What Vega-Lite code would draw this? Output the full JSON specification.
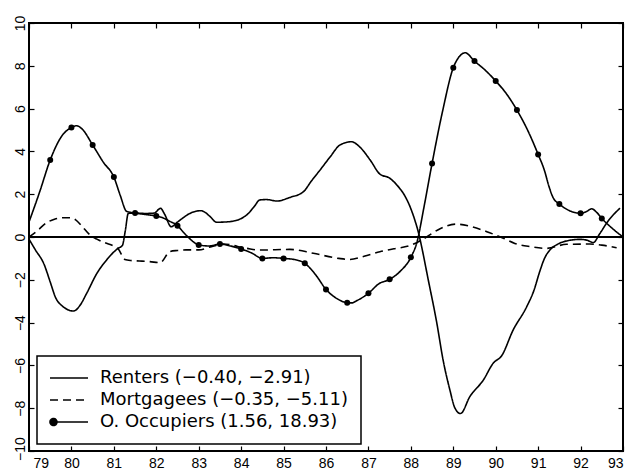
{
  "$schema": "https://vega.github.io/schema/vega-lite/v6.json",
  "autosize": {"type": "none"},
  "padding": {"left": 29, "top": 23, "right": 7, "bottom": 18},
  "width": 594,
  "height": 428,
  "background": "white",
  "config": {
    "view": {"stroke": "black", "strokeWidth": 2},
    "axis": {"domain": false, "grid": false, "ticks": true, "tickSize": -5, "tickColor": "black", "tickWidth": 1.2, "labelFont": "Liberation Sans", "labelFontSize": 14, "labelColor": "black"}
  },
  "data": {"values": [
    {"s": "Renters (−0.40, −2.91)", "x": 79.0, "y": -0.1},
    {"s": "Renters (−0.40, −2.91)", "x": 79.15, "y": -0.6},
    {"s": "Renters (−0.40, −2.91)", "x": 79.35, "y": -1.25},
    {"s": "Renters (−0.40, −2.91)", "x": 79.5, "y": -2.1},
    {"s": "Renters (−0.40, −2.91)", "x": 79.62, "y": -2.8},
    {"s": "Renters (−0.40, −2.91)", "x": 79.8, "y": -3.25},
    {"s": "Renters (−0.40, −2.91)", "x": 80.05, "y": -3.46},
    {"s": "Renters (−0.40, −2.91)", "x": 80.2, "y": -3.2},
    {"s": "Renters (−0.40, −2.91)", "x": 80.36, "y": -2.63},
    {"s": "Renters (−0.40, −2.91)", "x": 80.6, "y": -1.7},
    {"s": "Renters (−0.40, −2.91)", "x": 80.83, "y": -1.07},
    {"s": "Renters (−0.40, −2.91)", "x": 81.1, "y": -0.53},
    {"s": "Renters (−0.40, −2.91)", "x": 81.2, "y": -0.4},
    {"s": "Renters (−0.40, −2.91)", "x": 81.27, "y": 0.3},
    {"s": "Renters (−0.40, −2.91)", "x": 81.34, "y": 1.1},
    {"s": "Renters (−0.40, −2.91)", "x": 81.5, "y": 1.12},
    {"s": "Renters (−0.40, −2.91)", "x": 81.75, "y": 1.1},
    {"s": "Renters (−0.40, −2.91)", "x": 81.95, "y": 1.12},
    {"s": "Renters (−0.40, −2.91)", "x": 82.1, "y": 1.34},
    {"s": "Renters (−0.40, −2.91)", "x": 82.2, "y": 1.05},
    {"s": "Renters (−0.40, −2.91)", "x": 82.35, "y": 0.48},
    {"s": "Renters (−0.40, −2.91)", "x": 82.5, "y": 0.7},
    {"s": "Renters (−0.40, −2.91)", "x": 82.6, "y": 0.85},
    {"s": "Renters (−0.40, −2.91)", "x": 82.79, "y": 1.1},
    {"s": "Renters (−0.40, −2.91)", "x": 83.05, "y": 1.23},
    {"s": "Renters (−0.40, −2.91)", "x": 83.15, "y": 1.15},
    {"s": "Renters (−0.40, −2.91)", "x": 83.27, "y": 0.95},
    {"s": "Renters (−0.40, −2.91)", "x": 83.42, "y": 0.69},
    {"s": "Renters (−0.40, −2.91)", "x": 83.74, "y": 0.72},
    {"s": "Renters (−0.40, −2.91)", "x": 84.13, "y": 1.03},
    {"s": "Renters (−0.40, −2.91)", "x": 84.3, "y": 1.4},
    {"s": "Renters (−0.40, −2.91)", "x": 84.44, "y": 1.73},
    {"s": "Renters (−0.40, −2.91)", "x": 84.6, "y": 1.75},
    {"s": "Renters (−0.40, −2.91)", "x": 84.84, "y": 1.68},
    {"s": "Renters (−0.40, −2.91)", "x": 85.15, "y": 1.85},
    {"s": "Renters (−0.40, −2.91)", "x": 85.47, "y": 2.12},
    {"s": "Renters (−0.40, −2.91)", "x": 85.65, "y": 2.6},
    {"s": "Renters (−0.40, −2.91)", "x": 85.86, "y": 3.13},
    {"s": "Renters (−0.40, −2.91)", "x": 86.1, "y": 3.75},
    {"s": "Renters (−0.40, −2.91)", "x": 86.33, "y": 4.3},
    {"s": "Renters (−0.40, −2.91)", "x": 86.6, "y": 4.45},
    {"s": "Renters (−0.40, −2.91)", "x": 86.8, "y": 4.2},
    {"s": "Renters (−0.40, −2.91)", "x": 87.04, "y": 3.6},
    {"s": "Renters (−0.40, −2.91)", "x": 87.27, "y": 2.94},
    {"s": "Renters (−0.40, −2.91)", "x": 87.5, "y": 2.75},
    {"s": "Renters (−0.40, −2.91)", "x": 87.67, "y": 2.43},
    {"s": "Renters (−0.40, −2.91)", "x": 87.85, "y": 1.95},
    {"s": "Renters (−0.40, −2.91)", "x": 87.98, "y": 1.42},
    {"s": "Renters (−0.40, −2.91)", "x": 88.1, "y": 0.75},
    {"s": "Renters (−0.40, −2.91)", "x": 88.18, "y": 0.2},
    {"s": "Renters (−0.40, −2.91)", "x": 88.22, "y": -0.14},
    {"s": "Renters (−0.40, −2.91)", "x": 88.41, "y": -2.0},
    {"s": "Renters (−0.40, −2.91)", "x": 88.61, "y": -4.0},
    {"s": "Renters (−0.40, −2.91)", "x": 88.76, "y": -5.75},
    {"s": "Renters (−0.40, −2.91)", "x": 88.92, "y": -7.15},
    {"s": "Renters (−0.40, −2.91)", "x": 89.04, "y": -8.0},
    {"s": "Renters (−0.40, −2.91)", "x": 89.17, "y": -8.25},
    {"s": "Renters (−0.40, −2.91)", "x": 89.39, "y": -7.46},
    {"s": "Renters (−0.40, −2.91)", "x": 89.71, "y": -6.68},
    {"s": "Renters (−0.40, −2.91)", "x": 89.94, "y": -5.9},
    {"s": "Renters (−0.40, −2.91)", "x": 90.14, "y": -5.55},
    {"s": "Renters (−0.40, −2.91)", "x": 90.41, "y": -4.35},
    {"s": "Renters (−0.40, −2.91)", "x": 90.73, "y": -3.26},
    {"s": "Renters (−0.40, −2.91)", "x": 90.9, "y": -2.5},
    {"s": "Renters (−0.40, −2.91)", "x": 91.04, "y": -1.6},
    {"s": "Renters (−0.40, −2.91)", "x": 91.15, "y": -1.0},
    {"s": "Renters (−0.40, −2.91)", "x": 91.28, "y": -0.6},
    {"s": "Renters (−0.40, −2.91)", "x": 91.45, "y": -0.35},
    {"s": "Renters (−0.40, −2.91)", "x": 91.6, "y": -0.22},
    {"s": "Renters (−0.40, −2.91)", "x": 91.99, "y": -0.11},
    {"s": "Renters (−0.40, −2.91)", "x": 92.15, "y": -0.15},
    {"s": "Renters (−0.40, −2.91)", "x": 92.3, "y": -0.26},
    {"s": "Renters (−0.40, −2.91)", "x": 92.45, "y": 0.15},
    {"s": "Renters (−0.40, −2.91)", "x": 92.65, "y": 0.75},
    {"s": "Renters (−0.40, −2.91)", "x": 92.93, "y": 1.35},

    {"s": "Mortgagees (−0.35, −5.11)", "x": 79.0, "y": 0.0},
    {"s": "Mortgagees (−0.35, −5.11)", "x": 79.2, "y": 0.3},
    {"s": "Mortgagees (−0.35, −5.11)", "x": 79.4, "y": 0.65},
    {"s": "Mortgagees (−0.35, −5.11)", "x": 79.6, "y": 0.83},
    {"s": "Mortgagees (−0.35, −5.11)", "x": 79.8, "y": 0.9},
    {"s": "Mortgagees (−0.35, −5.11)", "x": 79.95, "y": 0.9},
    {"s": "Mortgagees (−0.35, −5.11)", "x": 80.1, "y": 0.8},
    {"s": "Mortgagees (−0.35, −5.11)", "x": 80.25, "y": 0.5},
    {"s": "Mortgagees (−0.35, −5.11)", "x": 80.44, "y": 0.09},
    {"s": "Mortgagees (−0.35, −5.11)", "x": 80.6, "y": -0.1},
    {"s": "Mortgagees (−0.35, −5.11)", "x": 80.79, "y": -0.27},
    {"s": "Mortgagees (−0.35, −5.11)", "x": 81.0, "y": -0.43},
    {"s": "Mortgagees (−0.35, −5.11)", "x": 81.1, "y": -0.55},
    {"s": "Mortgagees (−0.35, −5.11)", "x": 81.26, "y": -1.05},
    {"s": "Mortgagees (−0.35, −5.11)", "x": 81.4, "y": -1.1},
    {"s": "Mortgagees (−0.35, −5.11)", "x": 81.6, "y": -1.12},
    {"s": "Mortgagees (−0.35, −5.11)", "x": 81.85, "y": -1.15},
    {"s": "Mortgagees (−0.35, −5.11)", "x": 82.09, "y": -1.2},
    {"s": "Mortgagees (−0.35, −5.11)", "x": 82.32, "y": -0.68},
    {"s": "Mortgagees (−0.35, −5.11)", "x": 82.5, "y": -0.63},
    {"s": "Mortgagees (−0.35, −5.11)", "x": 82.7, "y": -0.6},
    {"s": "Mortgagees (−0.35, −5.11)", "x": 83.0, "y": -0.6},
    {"s": "Mortgagees (−0.35, −5.11)", "x": 83.3, "y": -0.45},
    {"s": "Mortgagees (−0.35, −5.11)", "x": 83.58, "y": -0.33},
    {"s": "Mortgagees (−0.35, −5.11)", "x": 84.13, "y": -0.53},
    {"s": "Mortgagees (−0.35, −5.11)", "x": 84.44, "y": -0.61},
    {"s": "Mortgagees (−0.35, −5.11)", "x": 85.15, "y": -0.58},
    {"s": "Mortgagees (−0.35, −5.11)", "x": 85.7, "y": -0.76},
    {"s": "Mortgagees (−0.35, −5.11)", "x": 86.3, "y": -1.0},
    {"s": "Mortgagees (−0.35, −5.11)", "x": 86.56, "y": -1.05},
    {"s": "Mortgagees (−0.35, −5.11)", "x": 86.9, "y": -0.9},
    {"s": "Mortgagees (−0.35, −5.11)", "x": 87.27, "y": -0.69},
    {"s": "Mortgagees (−0.35, −5.11)", "x": 87.6, "y": -0.55},
    {"s": "Mortgagees (−0.35, −5.11)", "x": 87.98, "y": -0.4},
    {"s": "Mortgagees (−0.35, −5.11)", "x": 88.2, "y": -0.2},
    {"s": "Mortgagees (−0.35, −5.11)", "x": 88.37, "y": 0.0},
    {"s": "Mortgagees (−0.35, −5.11)", "x": 88.7, "y": 0.4},
    {"s": "Mortgagees (−0.35, −5.11)", "x": 89.06, "y": 0.6},
    {"s": "Mortgagees (−0.35, −5.11)", "x": 89.4, "y": 0.5},
    {"s": "Mortgagees (−0.35, −5.11)", "x": 89.79, "y": 0.25},
    {"s": "Mortgagees (−0.35, −5.11)", "x": 90.18, "y": -0.06},
    {"s": "Mortgagees (−0.35, −5.11)", "x": 90.45, "y": -0.3},
    {"s": "Mortgagees (−0.35, −5.11)", "x": 90.81, "y": -0.45},
    {"s": "Mortgagees (−0.35, −5.11)", "x": 91.2, "y": -0.53},
    {"s": "Mortgagees (−0.35, −5.11)", "x": 91.67, "y": -0.34},
    {"s": "Mortgagees (−0.35, −5.11)", "x": 92.22, "y": -0.33},
    {"s": "Mortgagees (−0.35, −5.11)", "x": 92.5, "y": -0.38},
    {"s": "Mortgagees (−0.35, −5.11)", "x": 92.85, "y": -0.5},

    {"s": "O. Occupiers (1.56, 18.93)", "x": 79.0, "y": 0.7, "d": 0},
    {"s": "O. Occupiers (1.56, 18.93)", "x": 79.25, "y": 2.1, "d": 0},
    {"s": "O. Occupiers (1.56, 18.93)", "x": 79.5, "y": 3.6, "d": 1},
    {"s": "O. Occupiers (1.56, 18.93)", "x": 79.75, "y": 4.65, "d": 0},
    {"s": "O. Occupiers (1.56, 18.93)", "x": 80.0, "y": 5.12, "d": 1},
    {"s": "O. Occupiers (1.56, 18.93)", "x": 80.12, "y": 5.2, "d": 0},
    {"s": "O. Occupiers (1.56, 18.93)", "x": 80.25, "y": 5.05, "d": 0},
    {"s": "O. Occupiers (1.56, 18.93)", "x": 80.5, "y": 4.3, "d": 1},
    {"s": "O. Occupiers (1.56, 18.93)", "x": 80.75, "y": 3.5, "d": 0},
    {"s": "O. Occupiers (1.56, 18.93)", "x": 81.0, "y": 2.8, "d": 1},
    {"s": "O. Occupiers (1.56, 18.93)", "x": 81.15, "y": 1.95, "d": 0},
    {"s": "O. Occupiers (1.56, 18.93)", "x": 81.3, "y": 1.2, "d": 0},
    {"s": "O. Occupiers (1.56, 18.93)", "x": 81.5, "y": 1.12, "d": 1},
    {"s": "O. Occupiers (1.56, 18.93)", "x": 81.75, "y": 1.05, "d": 0},
    {"s": "O. Occupiers (1.56, 18.93)", "x": 82.0, "y": 0.98, "d": 1},
    {"s": "O. Occupiers (1.56, 18.93)", "x": 82.15, "y": 0.9, "d": 0},
    {"s": "O. Occupiers (1.56, 18.93)", "x": 82.3, "y": 0.75, "d": 0},
    {"s": "O. Occupiers (1.56, 18.93)", "x": 82.5, "y": 0.53, "d": 1},
    {"s": "O. Occupiers (1.56, 18.93)", "x": 82.65, "y": 0.2, "d": 0},
    {"s": "O. Occupiers (1.56, 18.93)", "x": 82.8, "y": -0.1, "d": 0},
    {"s": "O. Occupiers (1.56, 18.93)", "x": 83.0, "y": -0.37, "d": 1},
    {"s": "O. Occupiers (1.56, 18.93)", "x": 83.25, "y": -0.42, "d": 0},
    {"s": "O. Occupiers (1.56, 18.93)", "x": 83.5, "y": -0.33, "d": 1},
    {"s": "O. Occupiers (1.56, 18.93)", "x": 83.75, "y": -0.42, "d": 0},
    {"s": "O. Occupiers (1.56, 18.93)", "x": 84.0, "y": -0.56, "d": 1},
    {"s": "O. Occupiers (1.56, 18.93)", "x": 84.25, "y": -0.75, "d": 0},
    {"s": "O. Occupiers (1.56, 18.93)", "x": 84.5, "y": -1.0, "d": 1},
    {"s": "O. Occupiers (1.56, 18.93)", "x": 84.75, "y": -0.97, "d": 0},
    {"s": "O. Occupiers (1.56, 18.93)", "x": 85.0, "y": -1.0, "d": 1},
    {"s": "O. Occupiers (1.56, 18.93)", "x": 85.25, "y": -1.05, "d": 0},
    {"s": "O. Occupiers (1.56, 18.93)", "x": 85.5, "y": -1.23, "d": 1},
    {"s": "O. Occupiers (1.56, 18.93)", "x": 85.75, "y": -1.75, "d": 0},
    {"s": "O. Occupiers (1.56, 18.93)", "x": 86.0, "y": -2.45, "d": 1},
    {"s": "O. Occupiers (1.56, 18.93)", "x": 86.25, "y": -2.87, "d": 0},
    {"s": "O. Occupiers (1.56, 18.93)", "x": 86.5, "y": -3.07, "d": 1},
    {"s": "O. Occupiers (1.56, 18.93)", "x": 86.6, "y": -3.08, "d": 0},
    {"s": "O. Occupiers (1.56, 18.93)", "x": 86.75, "y": -2.95, "d": 0},
    {"s": "O. Occupiers (1.56, 18.93)", "x": 87.0, "y": -2.63, "d": 1},
    {"s": "O. Occupiers (1.56, 18.93)", "x": 87.25, "y": -2.18, "d": 0},
    {"s": "O. Occupiers (1.56, 18.93)", "x": 87.5, "y": -1.98, "d": 1},
    {"s": "O. Occupiers (1.56, 18.93)", "x": 87.75, "y": -1.6, "d": 0},
    {"s": "O. Occupiers (1.56, 18.93)", "x": 88.0, "y": -0.95, "d": 1},
    {"s": "O. Occupiers (1.56, 18.93)", "x": 88.15, "y": -0.2, "d": 0},
    {"s": "O. Occupiers (1.56, 18.93)", "x": 88.3, "y": 1.3, "d": 0},
    {"s": "O. Occupiers (1.56, 18.93)", "x": 88.5, "y": 3.44, "d": 1},
    {"s": "O. Occupiers (1.56, 18.93)", "x": 88.75, "y": 5.9, "d": 0},
    {"s": "O. Occupiers (1.56, 18.93)", "x": 89.0, "y": 7.91, "d": 1},
    {"s": "O. Occupiers (1.56, 18.93)", "x": 89.15, "y": 8.45, "d": 0},
    {"s": "O. Occupiers (1.56, 18.93)", "x": 89.28, "y": 8.61, "d": 0},
    {"s": "O. Occupiers (1.56, 18.93)", "x": 89.5, "y": 8.22, "d": 1},
    {"s": "O. Occupiers (1.56, 18.93)", "x": 89.75, "y": 7.8, "d": 0},
    {"s": "O. Occupiers (1.56, 18.93)", "x": 90.0, "y": 7.29, "d": 1},
    {"s": "O. Occupiers (1.56, 18.93)", "x": 90.25, "y": 6.7, "d": 0},
    {"s": "O. Occupiers (1.56, 18.93)", "x": 90.5, "y": 5.93, "d": 1},
    {"s": "O. Occupiers (1.56, 18.93)", "x": 90.75, "y": 5.0, "d": 0},
    {"s": "O. Occupiers (1.56, 18.93)", "x": 91.0, "y": 3.86, "d": 1},
    {"s": "O. Occupiers (1.56, 18.93)", "x": 91.15, "y": 3.1, "d": 0},
    {"s": "O. Occupiers (1.56, 18.93)", "x": 91.25, "y": 2.4, "d": 0},
    {"s": "O. Occupiers (1.56, 18.93)", "x": 91.35, "y": 1.85, "d": 0},
    {"s": "O. Occupiers (1.56, 18.93)", "x": 91.5, "y": 1.54, "d": 1},
    {"s": "O. Occupiers (1.56, 18.93)", "x": 91.75, "y": 1.22, "d": 0},
    {"s": "O. Occupiers (1.56, 18.93)", "x": 92.0, "y": 1.11, "d": 1},
    {"s": "O. Occupiers (1.56, 18.93)", "x": 92.15, "y": 1.2, "d": 0},
    {"s": "O. Occupiers (1.56, 18.93)", "x": 92.26, "y": 1.32, "d": 0},
    {"s": "O. Occupiers (1.56, 18.93)", "x": 92.38, "y": 1.15, "d": 0},
    {"s": "O. Occupiers (1.56, 18.93)", "x": 92.5, "y": 0.87, "d": 1},
    {"s": "O. Occupiers (1.56, 18.93)", "x": 92.75, "y": 0.4, "d": 0},
    {"s": "O. Occupiers (1.56, 18.93)", "x": 93.0, "y": 0.0, "d": 0}
  ]},
  "layer": [
    {
      "mark": {"type": "rule", "color": "black", "strokeWidth": 1.2},
      "encoding": {"y": {"datum": 0, "type": "quantitative", "axis": null}}
    },
    {
      "mark": {"type": "line", "color": "black", "strokeWidth": 1.6, "interpolate": "monotone"},
      "encoding": {
        "x": {"field": "x", "type": "quantitative", "scale": {"domain": [79, 93], "nice": false, "zero": false},
              "axis": {"orient": "bottom", "title": null, "values": [79,80,81,82,83,84,85,86,87,88,89,90,91,92,93], "format": "d", "labelPadding": 10,
                       "labelOffset": {"condition": {"test": "datum.value === 79", "value": 4}, "value": 0}}},
        "y": {"field": "y", "type": "quantitative", "scale": {"domain": [-10, 10], "nice": false, "zero": false},
              "axis": {"orient": "left", "title": null, "values": [-10,-8,-6,-4,-2,0,2,4,6,8,10], "labelAngle": 270, "labelAlign": "center", "labelBaseline": "alphabetic", "labelPadding": 10,
                       "labelOffset": {"condition": {"test": "datum.value === -10", "value": -2.5}, "value": 0}}},
        "strokeDash": {"field": "s", "type": "nominal",
          "scale": {"domain": ["Renters (−0.40, −2.91)", "Mortgagees (−0.35, −5.11)", "O. Occupiers (1.56, 18.93)"], "range": [[1, 0], [8, 5], [1, 0]]},
          "legend": {"orient": "none", "legendX": 8, "legendY": 333, "title": null, "direction": "vertical", "padding": 13,
            "fillColor": "white", "strokeColor": "black",
            "labelFont": "DejaVu Sans", "labelFontSize": 18, "labelColor": "black", "labelLimit": 0,
            "symbolSize": 256, "symbolOffset": 10, "labelOffset": 22, "rowPadding": 4,
            "symbolStrokeWidth": 1.5, "symbolStrokeColor": "black",
            "encode": {
              "legend": {"update": {"strokeWidth": {"value": 1.5}}},
              "symbols": {"update": {
                "shape": {"signal": "datum.value === 'O. Occupiers (1.56, 18.93)' ? 'M-2.375,0H2.375M-1.5,0A0.44,0.44 0 1,0 -2.38,0A0.44,0.44 0 1,0 -1.5,0Z' : 'M-2.375,0H2.375'"},
                "fill": {"value": "black"},
                "stroke": {"value": "black"},
                "strokeWidth": {"value": 1.5}
              }}
            }}
        }
      }
    },
    {
      "transform": [{"filter": "datum.d === 1"}],
      "mark": {"type": "point", "filled": true, "color": "black", "size": 36, "opacity": 1},
      "encoding": {
        "x": {"field": "x", "type": "quantitative", "axis": {"orient": "top", "title": null, "labels": false, "values": [79,80,81,82,83,84,85,86,87,88,89,90,91,92,93]}},
        "y": {"field": "y", "type": "quantitative", "axis": {"orient": "right", "title": null, "labels": false, "values": [-10,-8,-6,-4,-2,0,2,4,6,8,10]}}
      }
    }
  ],
  "resolve": {"axis": {"x": "independent", "y": "independent"}}
}
